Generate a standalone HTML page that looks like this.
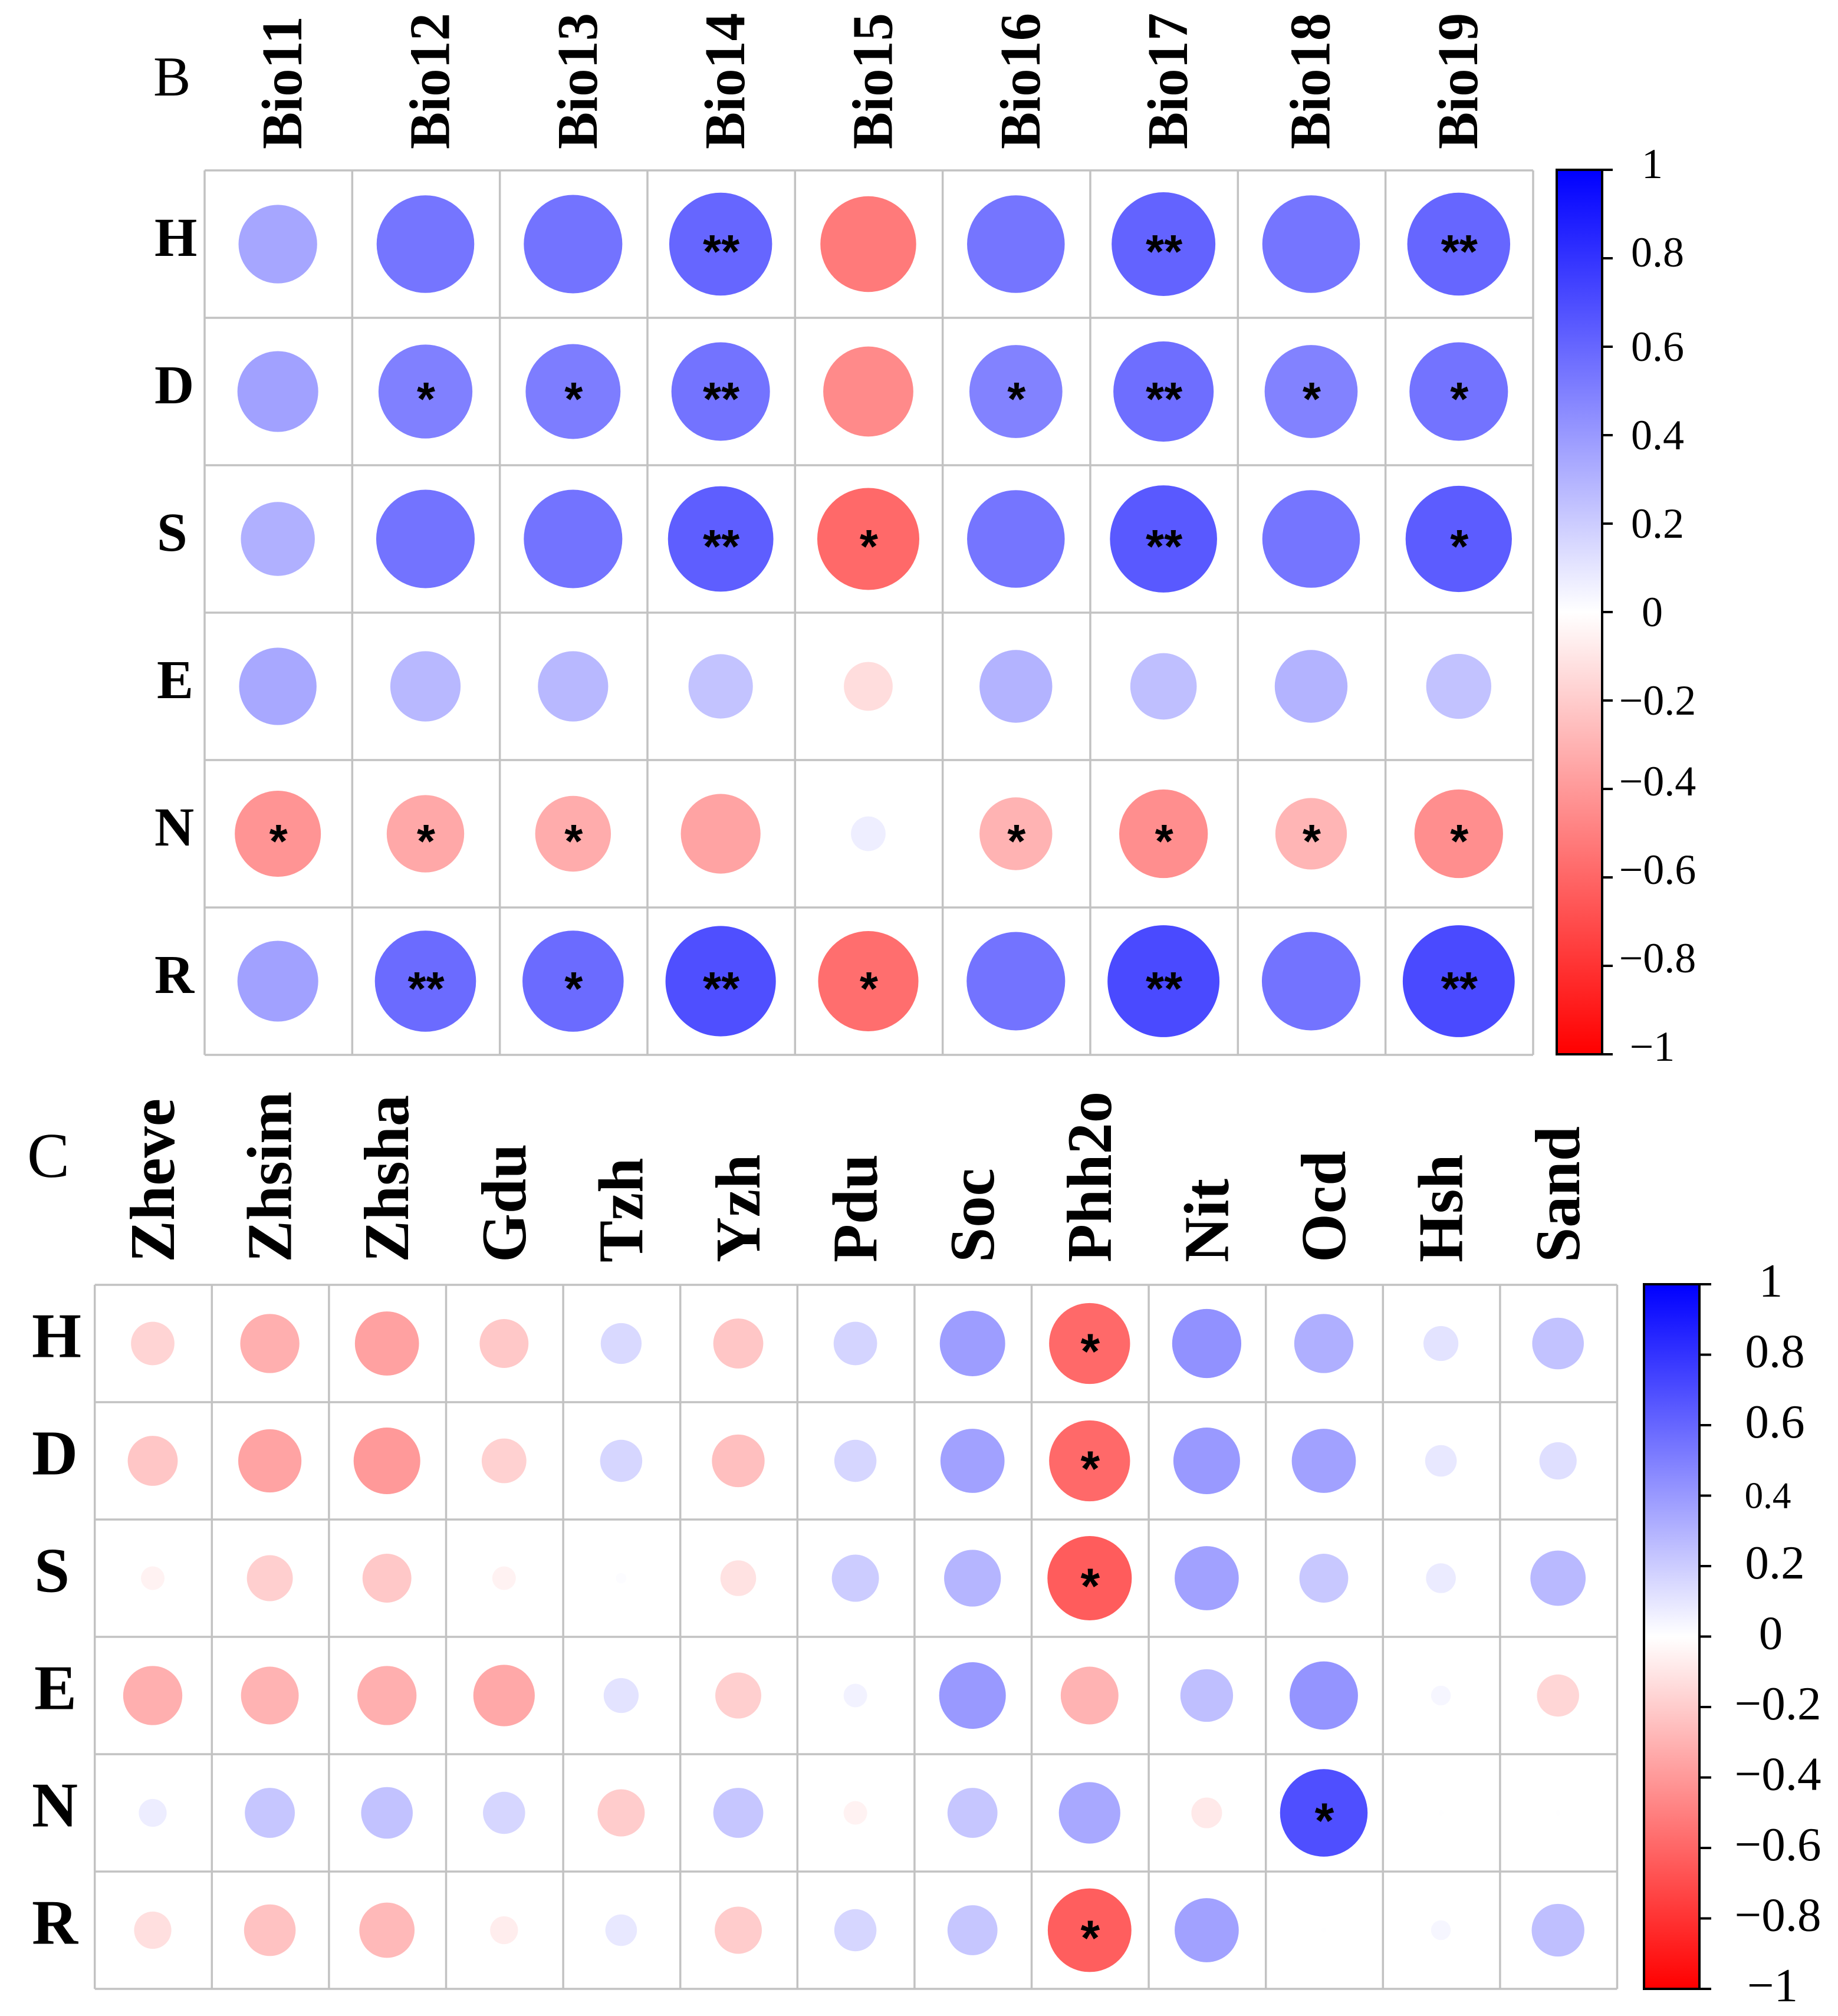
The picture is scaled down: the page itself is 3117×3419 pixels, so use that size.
<!DOCTYPE html>
<html lang="en">
<head>
<meta charset="utf-8">
<title>Correlation matrices B and C</title>
<style>
html,body{margin:0;padding:0;background:#fff;width:3117px;height:3419px;overflow:hidden}
svg{display:block}
text{font-family:"Liberation Serif",serif;fill:#000}
.bold{font-weight:bold}
.star{font-family:"Liberation Sans",sans-serif;font-weight:bold}
</style>
</head>
<body>
<svg id="figure" xmlns="http://www.w3.org/2000/svg" width="3117" height="3419" viewBox="0 0 3117 3419">
  <defs>
    <linearGradient id="rampGradient" x1="0" y1="0" x2="0" y2="1">
      <stop offset="0" stop-color="#0000ff"/>
      <stop offset="0.5" stop-color="#ffffff"/>
      <stop offset="1" stop-color="#ff0000"/>
    </linearGradient>
  </defs>
  <rect width="3117" height="3419" fill="#fff"/>
  <text x="260" y="162" font-size="95">B</text>
  <text x="46" y="1996" font-size="108">C</text>
</svg>
<script>
// ---- Shared labels ----
const rowLabels = ["H", "D", "S", "E", "N", "R"];
const tickValues = [1, 0.8, 0.6, 0.4, 0.2, 0, -0.2, -0.4, -0.6, -0.8, -1];
const tickLabels = ["1", "0.8", "0.6", "0.4", "0.2", "0", "\u22120.2", "\u22120.4", "\u22120.6", "\u22120.8", "\u22121"];

// ---- Panel B values ----
const bioColumns = ["Bio11", "Bio12", "Bio13", "Bio14", "Bio15", "Bio16", "Bio17", "Bio18", "Bio19"];
const bioH = [0.35, 0.54, 0.55, 0.60, -0.52, 0.54, 0.61, 0.54, 0.60];
const bioD = [0.37, 0.50, 0.51, 0.55, -0.46, 0.49, 0.57, 0.49, 0.55];
const bioS = [0.31, 0.55, 0.55, 0.63, -0.59, 0.54, 0.65, 0.54, 0.64];
const bioE = [0.34, 0.28, 0.28, 0.235, -0.135, 0.30, 0.25, 0.30, 0.24];
const bioN = [-0.42, -0.34, -0.325, -0.36, 0.068, -0.30, -0.445, -0.29, -0.445];
const bioR = [0.37, 0.58, 0.58, 0.69, -0.57, 0.55, 0.71, 0.55, 0.71];
const bioValues = [bioH, bioD, bioS, bioE, bioN, bioR];
const bioStarsH = ["", "", "", "**", "", "", "**", "", "**"];
const bioStarsD = ["", "*", "*", "**", "", "*", "**", "*", "*"];
const bioStarsS = ["", "", "", "**", "*", "", "**", "", "*"];
const bioStarsE = ["", "", "", "", "", "", "", "", ""];
const bioStarsN = ["*", "*", "*", "", "", "*", "*", "*", "*"];
const bioStarsR = ["", "**", "*", "**", "*", "", "**", "", "**"];
const bioStars = [bioStarsH, bioStarsD, bioStarsS, bioStarsE, bioStarsN, bioStarsR];

// ---- Panel C values ----
const soilColumns = ["Zheve", "Zhsim", "Zhsha", "Gdu", "Tzh", "Yzh", "Pdu", "Soc", "Phh2o", "Nit", "Ocd", "Hsh", "Sand"];
const soilH = [-0.17, -0.315, -0.37, -0.215, 0.15, -0.225, 0.17, 0.385, -0.59, 0.43, 0.315, 0.11, 0.24];
const soilD = [-0.225, -0.36, -0.40, -0.18, 0.16, -0.25, 0.16, 0.37, -0.59, 0.40, 0.37, 0.09, 0.125];
const soilS = [-0.05, -0.19, -0.215, -0.05, 0.01, -0.115, 0.20, 0.29, -0.64, 0.37, 0.215, 0.08, 0.275];
const soilE = [-0.315, -0.30, -0.315, -0.34, 0.11, -0.19, 0.05, 0.40, -0.30, 0.25, 0.42, 0.035, -0.16];
const soilN = [0.07, 0.225, 0.24, 0.16, -0.20, 0.225, -0.05, 0.225, 0.34, -0.085, 0.69, 0.002, 0.002];
const soilR = [-0.125, -0.24, -0.275, -0.07, 0.09, -0.20, 0.16, 0.225, -0.63, 0.37, 0.002, 0.035, 0.25];
const soilValues = [soilH, soilD, soilS, soilE, soilN, soilR];
const soilStarsPhh2o = ["*", "*", "*", "", "", "*"];
const soilStarsOcd = ["", "", "", "", "*", ""];

const NS = "http://www.w3.org/2000/svg";
const svg = document.getElementById("figure");

function mk(tag, attrs, text) {
  const el = document.createElementNS(NS, tag);
  for (const k in attrs) el.setAttribute(k, attrs[k]);
  if (text !== undefined) el.textContent = text;
  svg.appendChild(el);
  return el;
}

function rampColor(v) {
  const c = Math.round(255 * (1 - Math.min(1, Math.abs(v))));
  return v >= 0 ? `rgb(${c},${c},255)` : `rgb(255,${c},${c})`;
}

function drawMatrix(cfg) {
  const { left, top, cellW, cellH, cols, values, prefix } = cfg;
  const x = i => left + cellW * (i + 0.5);
  const y = j => top + cellH * (j + 0.5);
  const radius = (v, cell) => 0.45 * Math.sqrt(Math.abs(v)) * cell;

  // grid
  for (let i = 0; i <= cols.length; i++) {
    const lx = left + i * cellW;
    const el = mk("line", { x1: lx, x2: lx, y1: top, y2: top + cellH * rowLabels.length, stroke: "#c2c2c2", "stroke-width": 3.5 });
    
    
  }
  for (let j = 0; j <= rowLabels.length; j++) {
    const ly = top + j * cellH;
    const el = mk("line", { x1: left, x2: left + cellW * cols.length, y1: ly, y2: ly, stroke: "#c2c2c2", "stroke-width": 3.5 });
    
    
  }

  // circles and stars
  values.forEach((row, j) => {
    row.forEach((v, i) => {
      const c = mk("circle", { cx: x(i) - 1, cy: y(j), r: radius(v, cellW), fill: rampColor(v) });
      
      
      const s = cfg.stars(j, i);
      if (s) {
        const t = mk("text", { x: x(i), y: y(j) + cfg.starSize * 0.5, "font-size": cfg.starSize, "text-anchor": "middle", class: "star" }, s);
        
        
      }
    });
  });

  // column labels
  cols.forEach((name, i) => {
    const bx = x(i) + cfg.colLabelShift(i);
    const t = mk("text", {
      transform: `translate(${bx},${cfg.colLabelY}) rotate(-90) scale(1,${cfg.colLabelStretch})`,
      "font-size": cfg.colLabelSize, class: "bold"
    }, name);
    
    
  });

  // row labels
  rowLabels.forEach((name, j) => {
    const nudge = (name === "S" || name === "E") ? 4 : 0;
    const t = mk("text", { x: cfg.rowLabelX + nudge, y: y(j) + cfg.rowLabelDy, "font-size": cfg.rowLabelSize, class: "bold" }, name);
    
    
  });
}

function drawColorbar(cfg) {
  const { left, right, top, bottom, tickEnd, prefix } = cfg;
  const y = v => top + (1 - v) / 2 * (bottom - top);

  const bar = mk("rect", { x: left, y: top, width: right - left, height: bottom - top, fill: "url(#rampGradient)", stroke: "#000", "stroke-width": 4 });
  
  

  tickValues.forEach((v, i) => {
    const tick = mk("line", { x1: right, x2: tickEnd, y1: y(v), y2: y(v), stroke: "#000", "stroke-width": 4 });
    
    
    const label = mk("text", {
      x: cfg.labelX(v), y: y(v) + cfg.labelDy(v),
      "font-size": cfg.labelSize(v), "text-anchor": "middle"
    }, tickLabels[i]);
    
    
  });
}

// Panel B
drawMatrix({
  prefix: "panel-b", left: 347, top: 289, cellW: 250.33, cellH: 250,
  cols: bioColumns, values: bioValues,
  stars: (j, i) => bioStars[j][i], starSize: 80,
  colLabelY: 253, colLabelSize: 94.5, colLabelStretch: 1.03,
  colLabelShift: i => (i >= 7 ? 30 : 39),
  rowLabelX: 262, rowLabelDy: 20, rowLabelSize: 93
});
drawColorbar({
  prefix: "panel-b", left: 2640, right: 2717, top: 288, bottom: 1788, tickEnd: 2735,
  labelX: v => (v === 1 || v === 0 || v === -1 ? 2802 : 2811),
  labelDy: v => (v >= 0.8 ? 14 : (v <= -0.4 ? 11 : 24)),
  labelSize: () => 72
});

// Panel C
drawMatrix({
  prefix: "panel-c", left: 160.7, top: 2179, cellW: 198.6, cellH: 199,
  cols: soilColumns, values: soilValues,
  stars: (j, i) => (i === 8 ? soilStarsPhh2o[j] : (i === 10 ? soilStarsOcd[j] : "")), starSize: 84,
  colLabelY: 2141, colLabelSize: 106.5, colLabelStretch: 1.02,
  colLabelShift: () => 35,
  rowLabelX: 54, rowLabelDy: 23, rowLabelSize: 108
});
drawColorbar({
  prefix: "panel-c", left: 2788, right: 2882, top: 2178, bottom: 3373, tickEnd: 2902,
  labelX: v => (v === 1 || v === 0 ? 3003 : (v === -1 ? 3006 : (v === 0.4 ? 2998 : (v < 0 ? 3015 : 3010)))),
  labelDy: () => 21,
  labelSize: v => (v === 0.4 ? 63 : 81)
});
</script>
</body>
</html>
